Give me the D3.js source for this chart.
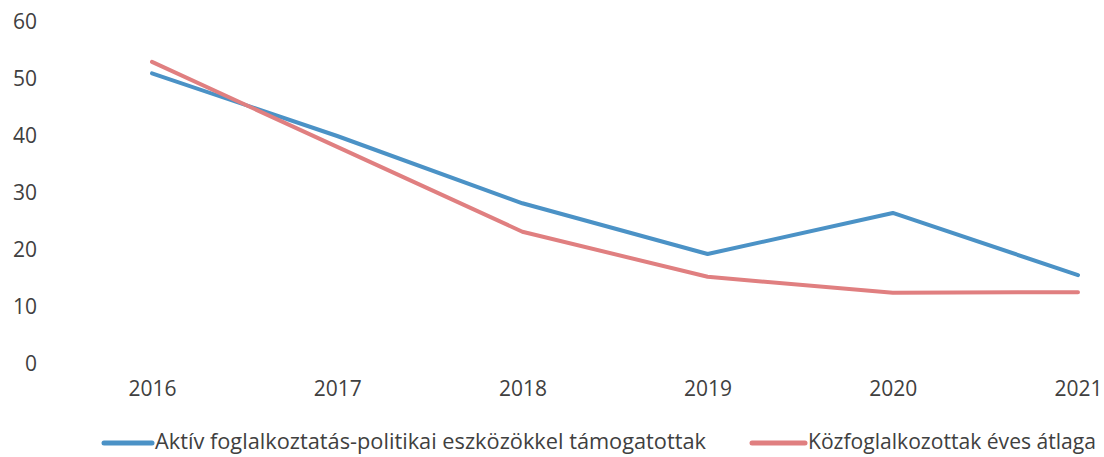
<!DOCTYPE html>
<html><head><meta charset="utf-8">
<script src="https://cdn.jsdelivr.net/npm/d3@7"></script>
<style>body{margin:0;background:#fff}svg{display:block}</style>
</head><body>
<svg id="c" width="1104" height="457"></svg>
<script>
const years = ["2016","2017","2018","2019","2020","2021"];
const aktiv = [51, 40, 28.2, 19.3, 26.5, 15.6];
const kozfog = [53, 38.1, 23.2, 15.3, 12.5, 12.6];
const yTicks = [0,10,20,30,40,50,60];
const seriesNames = ["Aktív foglalkoztatás-politikai eszközökkel támogatottak","Közfoglalkozottak éves átlaga"];
const colors = ["#4b92c6","#e07f80"];

const svg = d3.select("#c");
const font = "'Open Sans', sans-serif";
const x = d3.scalePoint().domain(years).range([152,1078]);
const y = d3.scaleLinear().domain([0,60]).range([364,22]);

const yAxis = svg.append("g").attr("transform","translate(37,0)")
  .call(d3.axisLeft(y).tickValues(yTicks).tickSize(0).tickPadding(0));
yAxis.select(".domain").remove();
yAxis.selectAll("text").attr("font-family",font).attr("font-size",21).attr("fill","#404040");

const xAxis = svg.append("g").attr("transform","translate(0,381)")
  .call(d3.axisBottom(x).tickSize(0).tickPadding(0));
xAxis.select(".domain").remove();
xAxis.selectAll("text").attr("font-family",font).attr("font-size",21).attr("fill","#404040");

const line = d3.line().x((d,i)=>x(years[i])).y(d=>y(d));
[aktiv,kozfog].forEach((s,i)=>{
  svg.append("path").datum(s).attr("d",line).attr("fill","none")
    .attr("stroke",colors[i]).attr("stroke-width",4).attr("stroke-linecap","round").attr("stroke-linejoin","round");
});

const legend = [{x1:104,x2:152,tx:155,w:551},{x1:752,x2:805,tx:808,w:288}];
legend.forEach((l,i)=>{
  svg.append("line").attr("x1",l.x1).attr("x2",l.x2).attr("y1",443).attr("y2",443)
    .attr("stroke",colors[i]).attr("stroke-width",5).attr("stroke-linecap","round");
  svg.append("text").attr("x",l.tx).attr("y",449).attr("font-family",font).attr("font-size",21)
    .attr("fill","#404040").attr("textLength",l.w).attr("lengthAdjust","spacingAndGlyphs").text(seriesNames[i]);
});
</script>
</body></html>
